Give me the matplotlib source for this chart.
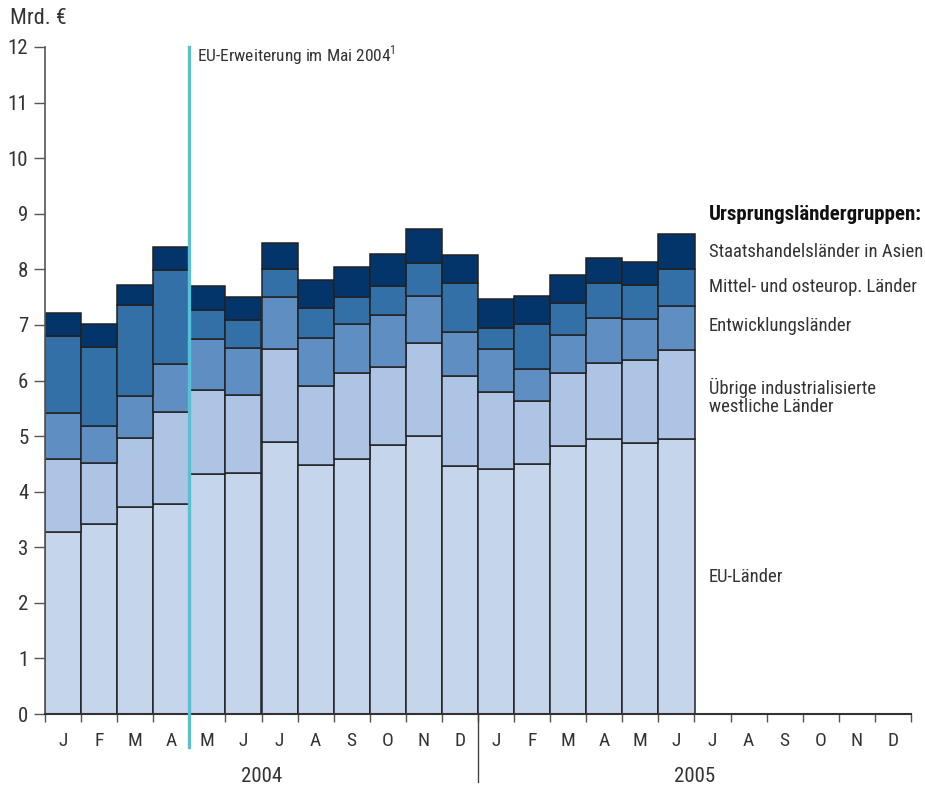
import numpy as np
import matplotlib
matplotlib.use("Agg")
import matplotlib.pyplot as plt
from matplotlib import font_manager as fm
import matplotlib.transforms as mtransforms

months = ["J", "F", "M", "A", "M", "J", "J", "A", "S", "O", "N", "D"] * 2
years = ["2004", "2005"]

eu = [3.28, 3.41, 3.72, 3.77, 4.31, 4.34, 4.90, 4.48, 4.59, 4.84, 5.01, 4.47,
      4.40, 4.50, 4.82, 4.95, 4.87, 4.95]
uebrige = [1.31, 1.10, 1.25, 1.67, 1.52, 1.40, 1.67, 1.43, 1.54, 1.41, 1.67, 1.61,
           1.40, 1.14, 1.32, 1.37, 1.50, 1.60]
entw = [0.83, 0.68, 0.75, 0.86, 0.92, 0.85, 0.94, 0.86, 0.88, 0.93, 0.84, 0.79,
        0.77, 0.57, 0.67, 0.80, 0.73, 0.79]
moe = [1.38, 1.42, 1.63, 1.68, 0.52, 0.49, 0.50, 0.54, 0.50, 0.52, 0.59, 0.89,
       0.37, 0.81, 0.59, 0.64, 0.61, 0.66]
asien = [0.41, 0.40, 0.36, 0.42, 0.43, 0.42, 0.47, 0.49, 0.54, 0.57, 0.61, 0.50,
         0.52, 0.50, 0.49, 0.44, 0.42, 0.63]

series = [eu, uebrige, entw, moe, asien]
colors = ["#c5d5ec", "#aec4e4", "#5f8ec2", "#3470a8", "#03356b"]


def pick_font(bold):
    want = 700 if bold else 400
    prefs = ["Liberation Sans Narrow", "Roboto Condensed", "DejaVu Sans",
             "Open Sans Condensed", "Noto Sans"]
    best = None
    for pref in prefs:
        for f in fm.fontManager.ttflist:
            if f.name != pref or f.style != "normal":
                continue
            st = str(f.stretch)
            cond = ("Narrow" in f.name or "Condensed" in f.name or
                    st in ("condensed", "semi-condensed") or
                    (st.isdigit() and int(st) < 500))
            if not cond:
                continue
            w = f.weight if isinstance(f.weight, int) else (700 if "bold" in str(f.weight) else 400)
            if w == want:
                return f.fname
            if best is None:
                best = f.fname
        if best:
            return best
    return None


fn_reg = pick_font(False)
fn_bold = pick_font(True)


def FP(size, bold=False):
    fn = fn_bold if bold else fn_reg
    if fn:
        return fm.FontProperties(fname=fn, size=size)
    return fm.FontProperties(family="DejaVu Sans", size=size,
                             weight="bold" if bold else "normal")


txtc = "#333333"

fig = plt.figure(figsize=(9.25, 7.87), dpi=100)
ax = fig.add_axes([45/925, 1-714/787, (911-45)/925, 667/787])

x = np.arange(len(eu)) + 0.5
bottom = np.zeros(len(eu))
for vals, c in zip(series, colors):
    v = np.array(vals)
    ax.bar(x, v, width=1.0, bottom=bottom, color=c, edgecolor="#222222",
           linewidth=1.1, zorder=2)
    bottom += v

ax.set_xlim(0, 24)
ax.set_ylim(0, 12)

for s in ["top", "right"]:
    ax.spines[s].set_visible(False)
ax.spines["left"].set_color("#555555")
ax.spines["bottom"].set_color("#333333")
ax.spines["bottom"].set_linewidth(1.5)
ax.spines["left"].set_linewidth(1.2)

ax.set_yticks(range(0, 13))
ax.tick_params(axis="y", length=8, width=1, color="#555555",
               labelcolor=txtc, pad=4)
for lbl in ax.get_yticklabels():
    lbl.set_fontproperties(FP(15))
ax.set_xticks(range(0, 25))
ax.set_xticklabels([])
ax.tick_params(axis="x", which="major", length=6, width=1, color="#555555")
ax.set_xticks(np.arange(24) + 0.5, labels=months, minor=True)
ax.tick_params(axis="x", which="minor", length=0,
               labelcolor=txtc, pad=13)
for lbl in ax.get_xticklabels(minor=True):
    lbl.set_fontproperties(FP(14))

trans = mtransforms.blended_transform_factory(ax.transData, ax.transAxes)
ax.text(6, -0.093, years[0], transform=trans, ha="center", va="center",
        fontproperties=FP(15), color=txtc)
ax.text(18, -0.093, years[1], transform=trans, ha="center", va="center",
        fontproperties=FP(15), color=txtc)
ax.plot([12, 12], [0, -0.1015], transform=trans, color="#444444", lw=1,
        clip_on=False)

# EU enlargement line
ax.plot([4, 4], [12, -0.60], color="#4ec5d4", lw=2.4, clip_on=False, zorder=5)
fig.text(197/925, 1-55/787, r"EU-Erweiterung im Mai 2004$^{\mathregular{1}}$",
         fontproperties=FP(12.5), color=txtc, va="center", ha="left")

fig.text(10/925, 1-19/787, "Mrd. €", fontproperties=FP(16), color=txtc, va="center")

lx = 709/925
fig.text(lx, 1-215/787, "Ursprungsländergruppen:", fontproperties=FP(15, True),
         color="#111111", va="center")
fig.text(lx, 1-252/787, "Staatshandelsländer in Asien", fontproperties=FP(13.4),
         color=txtc, va="center")
fig.text(lx, 1-287/787, "Mittel- und osteurop. Länder", fontproperties=FP(13.4),
         color=txtc, va="center")
fig.text(lx, 1-326/787, "Entwicklungsländer", fontproperties=FP(13.4),
         color=txtc, va="center")
fig.text(lx, 1-397/787, "Übrige industrialisierte\nwestliche Länder",
         fontproperties=FP(13.4), color=txtc, va="center", linespacing=1.0)
fig.text(lx, 1-577/787, "EU-Länder", fontproperties=FP(13.4), color=txtc, va="center")

fig.savefig("out.png", dpi=100)
